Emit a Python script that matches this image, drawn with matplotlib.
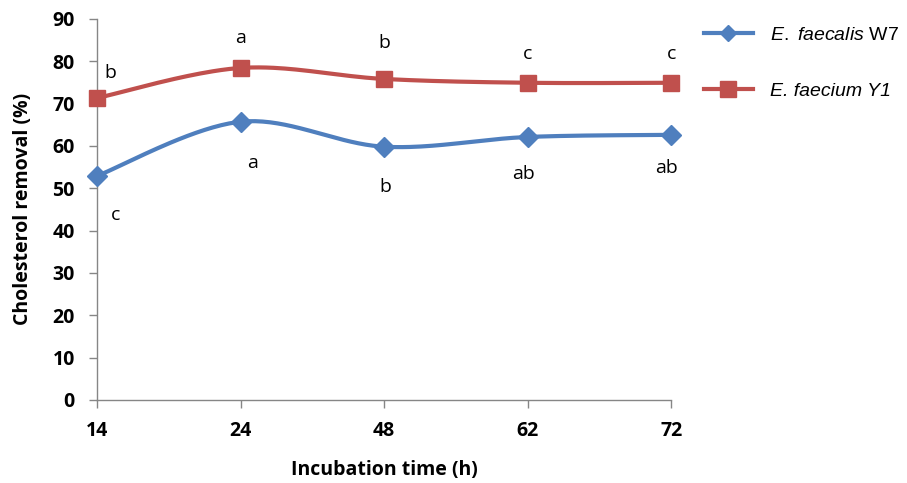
import matplotlib.pyplot as plt
import numpy as np

plt.rcParams["mathtext.fontset"] = "custom"
plt.rcParams["mathtext.it"] = "Liberation Sans:italic"
plt.rcParams["mathtext.rm"] = "Liberation Sans"

# data
hours = ["14", "24", "48", "62", "72"]
faecalis = [52.9, 65.7, 59.8, 62.1, 62.6]
faecium = [71.3, 78.4, 75.8, 74.9, 74.9]
faecalis_letters = ["c", "a", "b", "ab", "ab"]
faecium_letters = ["b", "a", "b", "c", "c"]

blue = "#4F7FBE"
red = "#C0504D"


def smooth(x, y, n=40):
    # excel-style smoothed line: bezier with control points from neighbours
    x = np.asarray(x, float)
    y = np.asarray(y, float)
    px = np.concatenate([[x[0]], x, [x[-1]]])
    py = np.concatenate([[y[0]], y, [y[-1]]])
    xs, ys = [], []
    t = np.linspace(0, 1, n)
    for i in range(1, len(px) - 2):
        p0 = np.array([px[i], py[i]])
        p3 = np.array([px[i + 1], py[i + 1]])
        c1 = p0 + (np.array([px[i + 1], py[i + 1]]) - np.array([px[i - 1], py[i - 1]])) / 6
        c2 = p3 - (np.array([px[i + 2], py[i + 2]]) - np.array([px[i], py[i]])) / 6
        b = ((1 - t) ** 3)[:, None] * p0 + (3 * (1 - t) ** 2 * t)[:, None] * c1 \
            + (3 * (1 - t) * t ** 2)[:, None] * c2 + (t ** 3)[:, None] * p3
        xs.extend(b[:, 0])
        ys.extend(b[:, 1])
    return xs, ys


fig = plt.figure(figsize=(9.07, 4.83), dpi=100)
ax = fig.add_axes([0.107, 0.172, 0.633, 0.789])

xi = np.arange(len(hours))

sx, sy = smooth(xi, faecalis)
ax.plot(sx, sy, color=blue, lw=3, zorder=2, clip_on=False)
ax.plot(xi, faecalis, ls="none", marker="D", ms=10, color=blue, zorder=3, clip_on=False)
sx, sy = smooth(xi, faecium)
ax.plot(sx, sy, color=red, lw=3, zorder=2, clip_on=False)
ax.plot(xi, faecium, ls="none", marker="s", ms=12, color=red, zorder=3, clip_on=False)

# significance letters
red_off = [(0.09, 5.8), (0, 7.1), (0, 8.6), (0, 6.8), (0, 6.8)]
blue_off = [(0.13, -9.3), (0.08, -9.7), (0.01, -9.5), (-0.03, -8.7), (-0.03, -7.8)]
for i in range(len(hours)):
    ax.text(xi[i] + red_off[i][0], faecium[i] + red_off[i][1], faecium_letters[i],
            ha="center", va="center", fontsize=14, family="Open Sans")
    ax.text(xi[i] + blue_off[i][0], faecalis[i] + blue_off[i][1], faecalis_letters[i],
            ha="center", va="center", fontsize=14, family="Open Sans")

ax.set_xlim(0, len(hours) - 1)
ax.set_ylim(0, 90)
ax.set_xticks(xi)
ax.set_xticklabels(hours)
ax.set_yticks(np.arange(0, 91, 10))
for lab in ax.get_xticklabels() + ax.get_yticklabels():
    lab.set_fontweight("bold")
    lab.set_fontsize(14)
    lab.set_family("Open Sans")
ax.tick_params(axis="both", direction="out", length=6, width=1, color="#868686")
ax.tick_params(axis="x", pad=9)
ax.tick_params(axis="y", pad=10)
ax.spines["top"].set_visible(False)
ax.spines["right"].set_visible(False)
for s in ["left", "bottom"]:
    ax.spines[s].set_color("#868686")
    ax.spines[s].set_linewidth(1)

ax.set_xlabel("Incubation time (h)", fontsize=14, fontweight="bold", family="Open Sans", labelpad=14)
ax.set_ylabel("Cholesterol removal (%)", fontsize=14, fontweight="bold", family="Open Sans", labelpad=14)

# legend
h1, = ax.plot([], [], color=blue, lw=3, marker="D", ms=8)
h2, = ax.plot([], [], color=red, lw=3, marker="s", ms=11)
leg = fig.legend([h1, h2], ["$\\it{E.}$ $\\it{faecalis}$ W7", "E. faecium Y1"],
                 loc="upper left", bbox_to_anchor=(0.757, 0.982), frameon=False,
                 handlelength=2.5, handletextpad=0.9, labelspacing=2.0,
                 prop={"family": "Liberation Sans", "size": 14})
leg.get_texts()[1].set_style("italic")

fig.savefig("out.png", dpi=100)
